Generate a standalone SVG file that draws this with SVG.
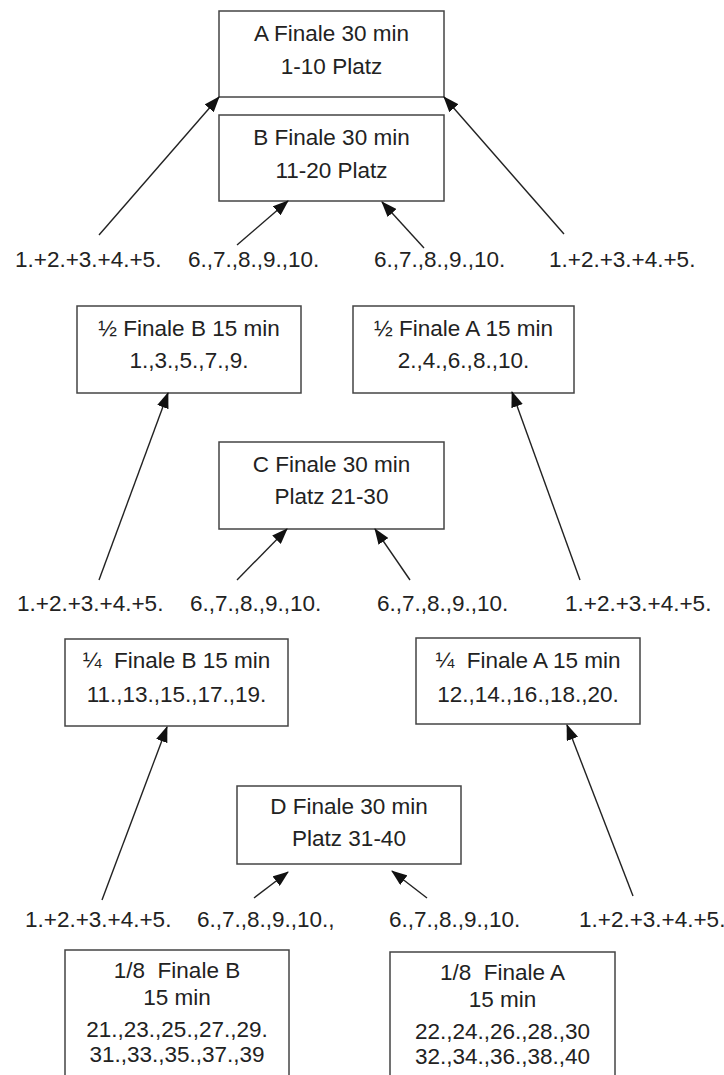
<svg xmlns="http://www.w3.org/2000/svg" width="724" height="1075" viewBox="0 0 724 1075">
<style>
.box{fill:#fff;stroke:#444;stroke-width:1.5}
text{font-family:"Liberation Sans",Arial,sans-serif;font-size:22.5px;fill:#222;white-space:pre}
.c{text-anchor:middle}
.ln{stroke:#222;stroke-width:1.4;fill:none;marker-end:url(#ah)}
</style>
<defs>
<marker id="ah" markerWidth="16" markerHeight="12" refX="15" refY="6" orient="auto" markerUnits="userSpaceOnUse">
<path d="M0,0 L16,6 L0,12 z" fill="#111"/>
</marker>
</defs>
<rect width="724" height="1075" fill="#fff"/>
<g id="nodeA"><rect class="box" x="219" y="11" width="225" height="86"/><text class="c" x="331.5" y="41">A Finale 30 min</text><text class="c" x="331.5" y="74">1-10 Platz</text></g>
<g id="nodeB"><rect class="box" x="219" y="115" width="225" height="86"/><text class="c" x="331.5" y="145">B Finale 30 min</text><text class="c" x="331.5" y="178">11-20 Platz</text></g>
<g id="halfB"><rect class="box" x="77" y="306" width="224" height="87"/><text class="c" x="189" y="336">½ Finale B 15 min</text><text class="c" x="189" y="368">1.,3.,5.,7.,9.</text></g>
<g id="halfA"><rect class="box" x="353" y="306" width="221" height="87"/><text class="c" x="463.5" y="336">½ Finale A 15 min</text><text class="c" x="463.5" y="368">2.,4.,6.,8.,10.</text></g>
<g id="nodeC"><rect class="box" x="219" y="442" width="225" height="87"/><text class="c" x="331.5" y="472">C Finale 30 min</text><text class="c" x="331.5" y="504">Platz 21-30</text></g>
<g id="quarterB"><rect class="box" x="65" y="639" width="223" height="87"/><text class="c" x="176.5" y="668">¼  Finale B 15 min</text><text class="c" x="176.5" y="702">11.,13.,15.,17.,19.</text></g>
<g id="quarterA"><rect class="box" x="416" y="638" width="224" height="86"/><text class="c" x="528" y="668">¼  Finale A 15 min</text><text class="c" x="528" y="702">12.,14.,16.,18.,20.</text></g>
<g id="nodeD"><rect class="box" x="237" y="786" width="224" height="78"/><text class="c" x="349" y="814">D Finale 30 min</text><text class="c" x="349" y="846">Platz 31-40</text></g>
<g id="eighthB"><rect class="box" x="65" y="950" width="224" height="130"/><text class="c" x="177" y="978">1/8  Finale B</text><text class="c" x="177" y="1005">15 min</text><text class="c" x="177" y="1037">21.,23.,25.,27.,29.</text><text class="c" x="177" y="1062">31.,33.,35.,37.,39</text></g>
<g id="eighthA"><rect class="box" x="390" y="952" width="225" height="130"/><text class="c" x="502.5" y="980">1/8  Finale A</text><text class="c" x="502.5" y="1007">15 min</text><text class="c" x="502.5" y="1039">22.,24.,26.,28.,30</text><text class="c" x="502.5" y="1064">32.,34.,36.,38.,40</text></g>
<g id="labels">
<text x="15" y="267">1.+2.+3.+4.+5.</text>
<text x="188" y="267">6.,7.,8.,9.,10.</text>
<text x="374" y="267">6.,7.,8.,9.,10.</text>
<text x="549" y="267">1.+2.+3.+4.+5.</text>
<text x="17" y="611">1.+2.+3.+4.+5.</text>
<text x="190" y="611">6.,7.,8.,9.,10.</text>
<text x="377" y="611">6.,7.,8.,9.,10.</text>
<text x="565" y="611">1.+2.+3.+4.+5.</text>
<text x="25" y="927">1.+2.+3.+4.+5.</text>
<text x="197" y="927">6.,7.,8.,9.,10.,</text>
<text x="389" y="927">6.,7.,8.,9.,10.</text>
<text x="579" y="927">1.+2.+3.+4.+5.</text>
</g>
<g id="connectors">
<line class="ln" x1="99" y1="235" x2="219" y2="97"/>
<line class="ln" x1="237" y1="245" x2="288" y2="201"/>
<line class="ln" x1="424" y1="248" x2="382" y2="202"/>
<line class="ln" x1="564" y1="234" x2="444" y2="97"/>
<line class="ln" x1="99" y1="580" x2="168" y2="393"/>
<line class="ln" x1="237" y1="580" x2="287" y2="529"/>
<line class="ln" x1="410" y1="580" x2="375" y2="529"/>
<line class="ln" x1="580" y1="580" x2="512" y2="392"/>
<line class="ln" x1="102" y1="900" x2="167" y2="727"/>
<line class="ln" x1="254" y1="898" x2="288" y2="872"/>
<line class="ln" x1="427" y1="898" x2="392" y2="871"/>
<line class="ln" x1="633" y1="896" x2="567" y2="725"/>
</g>
</svg>
